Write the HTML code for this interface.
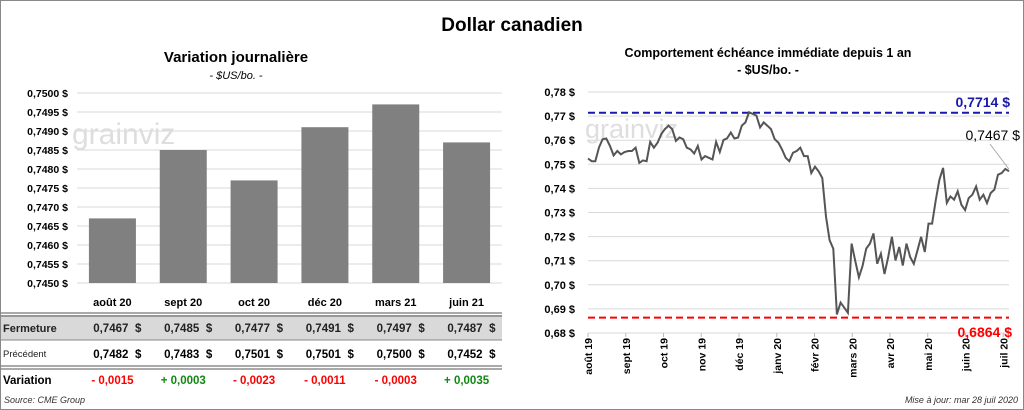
<!DOCTYPE html>
<html><head><meta charset="utf-8"><style>
html,body{margin:0;padding:0;background:#fff}
svg{display:block;font-family:"Liberation Sans",sans-serif}
</style></head><body>
<svg id="c" width="1024" height="410" viewBox="0 0 1024 410">
<rect x="0.5" y="0.5" width="1023" height="409" fill="#fff" stroke="#888"/>
<text x="512" y="31" text-anchor="middle" font-size="19" font-weight="bold" fill="#000">Dollar canadien</text>
<text x="236" y="62" text-anchor="middle" font-size="15" font-weight="bold" fill="#000">Variation  journalière</text>
<text x="236" y="79" text-anchor="middle" font-size="11" font-style="italic" fill="#000">- $US/bo. -</text>
<text x="768" y="57" text-anchor="middle" font-size="12.5" font-weight="bold" fill="#000">Comportement échéance immédiate depuis 1 an</text>
<text x="768" y="74" text-anchor="middle" font-size="12.5" font-weight="bold" fill="#000">- $US/bo. -</text>
<g id="bars"></g><g id="line"></g><g id="table"></g>
<text x="4" y="403" font-size="9" font-style="italic" fill="#333">Source: CME Group</text>
<text x="1018" y="403" text-anchor="end" font-size="9" font-style="italic" fill="#333">Mise à jour: mar 28 juil 2020</text>
</svg>
<script>
const NS="http://www.w3.org/2000/svg";
const barCats=["août 20","sept 20","oct 20","déc 20","mars 21","juin 21"];
const barVals=[0.7467,0.7485,0.7477,0.7491,0.7497,0.7487];
const prevVals=[0.7482,0.7483,0.7501,0.7501,0.7500,0.7452];
const varVals=[-0.0015,0.0003,-0.0023,-0.0011,-0.0003,0.0035];
const barTicks=[0.7450,0.7455,0.7460,0.7465,0.7470,0.7475,0.7480,0.7485,0.7490,0.7495,0.7500];
const lineMonths=["août 19","sept 19","oct 19","nov 19","déc 19","janv 20","févr 20","mars 20","avr 20","mai 20","juin 20","juil 20"];
const lineTicks=[0.68,0.69,0.70,0.71,0.72,0.73,0.74,0.75,0.76,0.77,0.78];
const lineVals=[0.7524,0.7513,0.7513,0.757,0.7604,0.7607,0.7576,0.7537,0.7555,0.7541,0.7551,0.7555,0.7555,0.7569,0.7506,0.7516,0.7513,0.7593,0.7569,0.759,0.7625,0.7646,0.766,0.7646,0.7597,0.7611,0.7604,0.7569,0.7562,0.7545,0.7576,0.752,0.7534,0.7527,0.752,0.7593,0.7551,0.7601,0.7608,0.7632,0.7607,0.7611,0.766,0.7674,0.7716,0.7709,0.7702,0.7653,0.7674,0.766,0.7646,0.7604,0.759,0.7562,0.7527,0.7513,0.7548,0.7555,0.7569,0.7534,0.7534,0.7464,0.749,0.7471,0.7443,0.7283,0.7185,0.715,0.6877,0.6926,0.6905,0.6884,0.7171,0.71,0.7031,0.7079,0.715,0.7171,0.7213,0.7087,0.7129,0.7045,0.7115,0.7199,0.7101,0.7157,0.708,0.7171,0.7115,0.7087,0.7143,0.7199,0.7136,0.7254,0.7254,0.7352,0.7436,0.7485,0.734,0.7367,0.7353,0.7388,0.7332,0.731,0.7360,0.7374,0.7408,0.7353,0.7374,0.7339,0.7381,0.7395,0.7457,0.7464,0.7481,0.7471];
const blueVal=0.7714, redVal=0.6864, lastVal=0.7467;
function el(tag,attrs,parent,txt){const e=document.createElementNS(NS,tag);for(const k in attrs)e.setAttribute(k,attrs[k]);if(txt!==undefined)e.textContent=txt;parent.appendChild(e);return e;}
const fmt4=v=>v.toFixed(4).replace('.',',');
const fmt2=v=>v.toFixed(2).replace('.',',');
// bar chart
const bg=document.getElementById('bars');
const bX0=77,bX1=502,bY0=283,bY1=93,bMin=0.7450,bMax=0.7500;
const by=v=>bY0+(v-bMin)/(bMax-bMin)*(bY1-bY0);
const bw=(bX1-bX0)/barCats.length;
const bx=i=>bX0+bw*(i+0.5);
barTicks.forEach(t=>{
 const g=el('line',{x1:bX0,x2:bX1,y1:by(t),y2:by(t),stroke:'#d9d9d9','stroke-width':1},bg);
 
 const l=el('text',{x:68,y:by(t)+4,'text-anchor':'end','font-size':10.5,'font-weight':'bold',fill:'#000'},bg,fmt4(t)+' $');
 
});
const wm1=el('text',{x:72,y:144,'font-size':30,fill:'#dedede'},bg,'grainviz');

barVals.forEach((v,i)=>{
 const r=el('rect',{x:bx(i)-23.5,y:by(v),width:47,height:bY0-by(v),fill:'#808080'},bg);
 
});
// table
const tg=document.getElementById('table');
const rb=el('rect',{x:1,y:315,width:501,height:25,fill:'#d9d9d9'},tg);

[[313,'#555',1],[316,'#555',1],[340,'#888',1],[366,'#555',1],[369,'#555',1]].forEach(a=>{
 const l=el('line',{x1:1,x2:502,y1:a[0],y2:a[0],stroke:a[1],'stroke-width':a[2]},tg);
 
});
const lab=(x,y,t,s,w,n,c)=>{const e=el('text',{x:x,y:y,'font-size':s,'font-weight':w,fill:c||'#000'},tg,t);return e;};
lab(3,332,'Fermeture',11,'bold','row-label-fermeture','#222');
lab(3,357,'Précédent',9.5,'normal','row-label-precedent','#222');
lab(3,384,'Variation',11.5,'bold','row-label-variation');
barCats.forEach((c,i)=>{
 const h=el('text',{x:bx(i),y:306,'text-anchor':'middle','font-size':11,'font-weight':'bold',fill:'#000'},tg,c);
 
 const f=el('text',{x:bx(i)+16,y:332,'text-anchor':'end','font-size':11.5,'font-weight':'bold',fill:'#222'},tg,fmt4(barVals[i]));
 
 const fd=el('text',{x:bx(i)+29,y:332,'text-anchor':'end','font-size':11.5,'font-weight':'bold',fill:'#222'},tg,'$');
 
 const p=el('text',{x:bx(i)+16,y:358,'text-anchor':'end','font-size':11.5,'font-weight':'bold',fill:'#000'},tg,fmt4(prevVals[i]));
 
 const pd=el('text',{x:bx(i)+29,y:358,'text-anchor':'end','font-size':11.5,'font-weight':'bold',fill:'#000'},tg,'$');
 
 const d=varVals[i];
 const v=el('text',{x:bx(i),y:384,'text-anchor':'middle','font-size':11.5,'font-weight':'bold',fill:d<0?'#ff0000':'#118811'},tg,(d<0?'- ':'+ ')+fmt4(Math.abs(d)));
 
});
// line chart
const lg=document.getElementById('line');
const lX0=588,lX1=1009,lY0=333,lY1=92,lMin=0.68,lMax=0.78;
const ly=v=>lY0+(v-lMin)/(lMax-lMin)*(lY1-lY0);
const lx=i=>lX0+i*(lX1-lX0)/(lineVals.length-1);
lineTicks.forEach(t=>{
 const g=el('line',{x1:lX0,x2:lX1,y1:ly(t),y2:ly(t),stroke:'#d9d9d9','stroke-width':1},lg);
 
 const l=el('text',{x:575,y:ly(t)+4,'text-anchor':'end','font-size':11,'font-weight':'bold',fill:'#000'},lg,fmt2(t)+' $');
 
});
const mStep=37.75;
lineMonths.forEach((m,i)=>{
 const x=lX0+i*mStep;
 const tk=el('line',{x1:x,x2:x,y1:lY0,y2:lY0+4,stroke:'#bbb'},lg);
 
 const t=el('text',{x:0,y:0,'text-anchor':'end','font-size':10.5,'font-weight':'bold',fill:'#000',transform:`translate(${x+4},338) rotate(-90)`},lg,m);
 
});
const wm2=el('text',{x:585,y:138,'font-size':27,fill:'#dedede'},lg,'grainviz');

const bl=el('line',{x1:lX0,x2:lX1,y1:ly(blueVal),y2:ly(blueVal),stroke:'#1a1aaa','stroke-width':2,'stroke-dasharray':'7,4'},lg);

const rl=el('line',{x1:lX0,x2:lX1,y1:ly(redVal),y2:ly(redVal),stroke:'#ff0000','stroke-width':2,'stroke-dasharray':'7,4'},lg);

const pl=el('polyline',{points:lineVals.map((v,i)=>lx(i).toFixed(1)+','+ly(v).toFixed(1)).join(' '),fill:'none',stroke:'#555','stroke-width':2},lg);

const bt=el('text',{x:1010,y:107,'text-anchor':'end','font-size':14,'font-weight':'bold',fill:'#1a1aaa'},lg,fmt4(blueVal)+' $');

const rt=el('text',{x:1012,y:337,'text-anchor':'end','font-size':14,'font-weight':'bold',fill:'#ff0000'},lg,fmt4(redVal)+' $');

const lt=el('text',{x:1020,y:140,'text-anchor':'end','font-size':14,fill:'#000'},lg,fmt4(lastVal)+' $');

const ll=el('line',{x1:990,y1:144,x2:lx(lineVals.length-1),y2:ly(lastVal)-3,stroke:'#aaa'},lg);

</script>
</body></html>
